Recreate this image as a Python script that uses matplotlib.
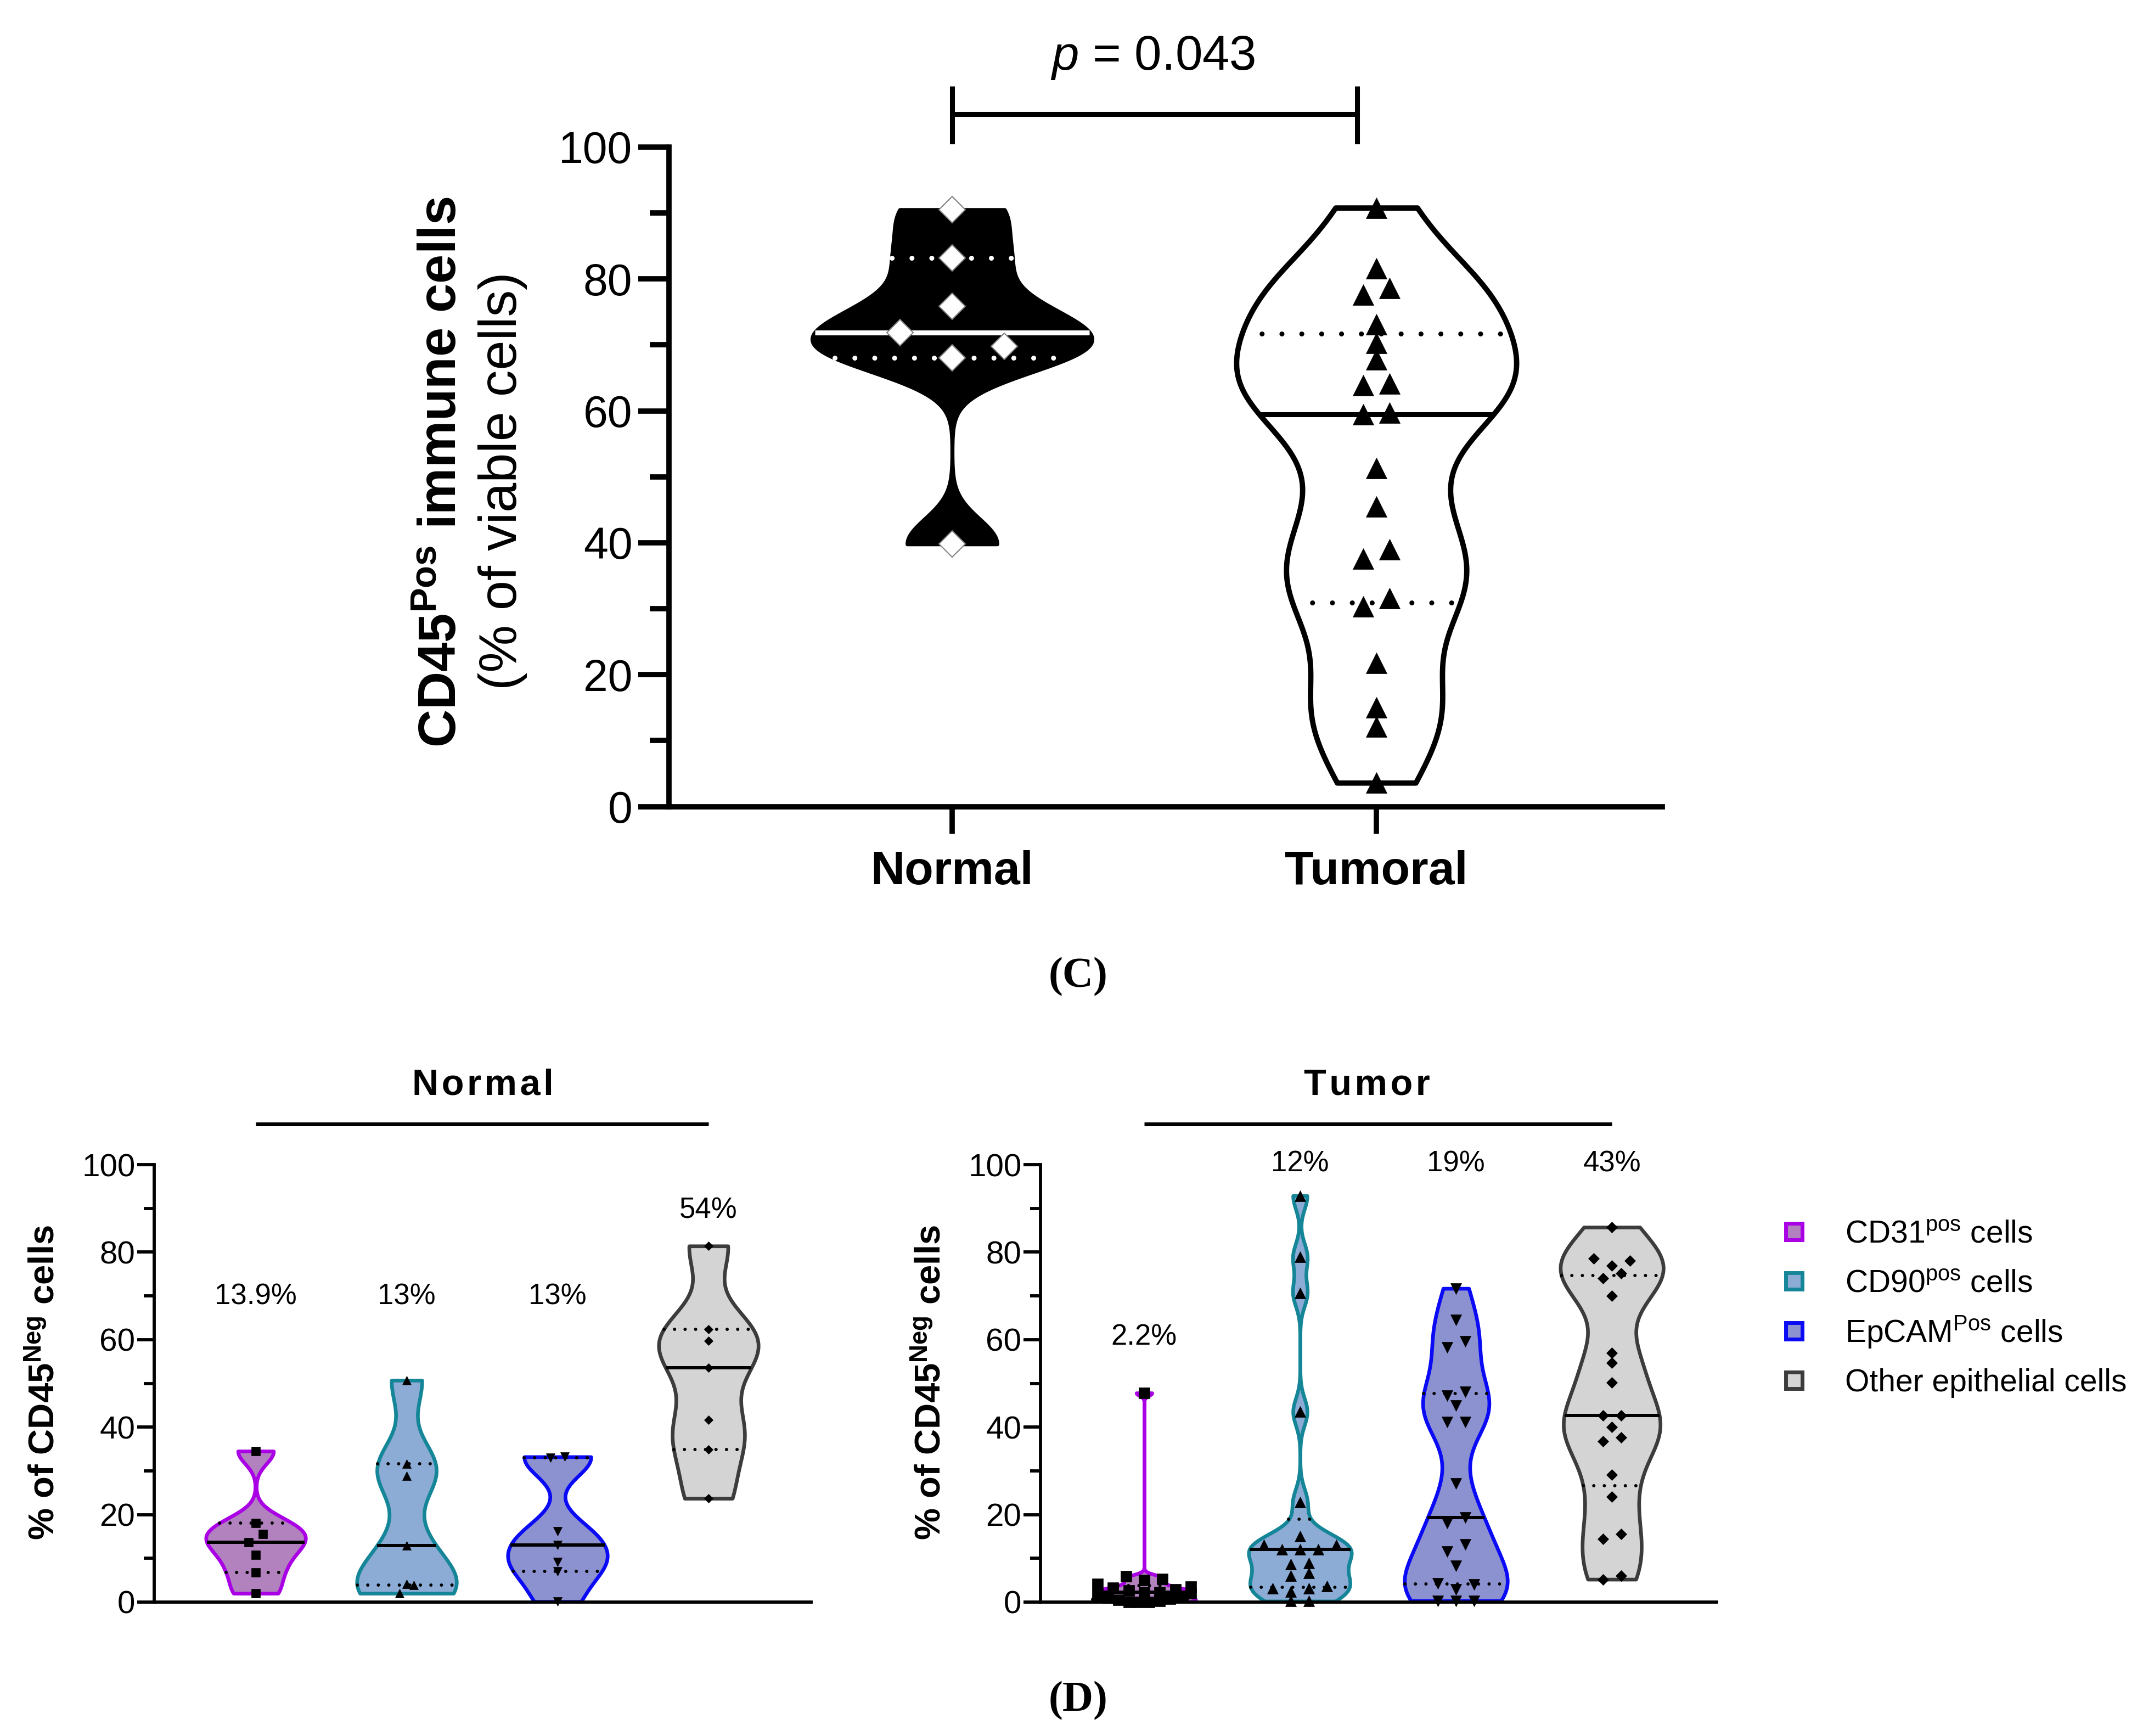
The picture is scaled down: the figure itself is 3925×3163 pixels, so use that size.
import numpy as np
import matplotlib
matplotlib.use('Agg')
import matplotlib.pyplot as plt
from matplotlib.lines import Line2D

plt.rcParams['font.family'] = ['Liberation Sans', 'DejaVu Sans']
plt.rcParams['mathtext.fontset'] = 'custom'
plt.rcParams['mathtext.rm'] = 'Liberation Sans'
plt.rcParams['mathtext.it'] = 'Liberation Sans:italic'
plt.rcParams['mathtext.bf'] = 'Liberation Sans:bold'

W, H = 3925, 3163

# ---- panel C data
groups_c = ['Normal', 'Tumoral']
normal_c = [90.5, 83.2, 75.9, 71.9, 69.8, 68.0, 39.8]
tumoral_c = [90.8, 81.6, 77.6, 78.6, 73.1, 70.3, 67.8, 63.9, 64.1, 59.5, 59.7,
             51.3, 45.5, 37.6, 39.0, 30.3, 31.6, 21.8, 15.0, 12.1, 3.6]
p_label = r'$p$ = 0.043'

# ---- panel D data
cells = ['CD31', 'CD90', 'EpCAM', 'Other']
legend_labels = [r'CD31$^{\mathrm{pos}}$ cells', r'CD90$^{\mathrm{pos}}$ cells',
                 r'EpCAM$^{\mathrm{Pos}}$ cells', 'Other epithelial cells']
n_cd31 = [34.5, 18.1, 15.6, 13.7, 10.8, 6.8, 2.0]
n_cd90 = [50.7, 31.6, 28.8, 12.9, 4.1, 3.9, 2.0]
n_epcam = [33.2, 33.0, 16.2, 13.0, 9.1, 7.0, 0.1]
n_other = [81.4, 62.4, 59.7, 53.6, 41.7, 34.9, 23.7]
t_cd31 = [47.8, 5.9, 5.3, 5.0, 4.1, 3.5, 3.2, 2.9, 2.6, 2.3, 2.2, 2.0, 1.6, 1.3,
          1.0, 0.8, 0.5, 0.3, 0.0, 0.0, 0.0]
t_cd90 = [92.9, 78.9, 70.7, 43.5, 22.8, 15.0, 13.1, 13.1, 12.1, 12.1, 12.1, 8.9,
          8.7, 6.6, 6.0, 3.7, 3.1, 3.1, 2.4, 0.3, 0.2]
t_epcam = [71.7, 64.5, 59.6, 58.2, 48.1, 47.2, 44.9, 41.2, 41.2, 27.1, 19.3, 18.1,
           13.2, 11.5, 8.3, 4.3, 4.0, 2.9, 0.3, 0.3, 0.3]
t_other = [85.7, 78.6, 78.0, 76.9, 75.2, 74.0, 70.0, 57.0, 54.7, 50.2, 42.6, 42.7,
           40.0, 37.7, 36.8, 29.1, 24.1, 15.5, 14.4, 6.0, 5.2]
pct_normal = ['13.9%', '13%', '13%', '54%']
pct_tumor = ['2.2%', '12%', '19%', '43%']

face_cols = ['#B282BE', '#8CACD6', '#8C92D0', '#D4D4D4']
edge_cols = ['#AA00E6', '#158698', '#0A0AF5', '#3C3C3C']
markers = ['s', '^', 'v', 'D']


def px_axes(l, r, y0, y100):
    return [l / W, 1 - y0 / H, (r - l) / W, (y0 - y100) / H]


def kde_shape(vals, n=500):
    v = np.asarray(vals, float)
    q1, q3 = np.percentile(v, [25, 75], method='weibull')
    s = v.std(ddof=1)
    if q3 - q1 > 0:
        s = min(s, (q3 - q1) / 1.34)
    h = 0.5 * s * len(v) ** -0.2
    ys = np.linspace(v.min(), v.max(), n)
    d = np.exp(-0.5 * ((ys[:, None] - v[None, :]) / h) ** 2).sum(1)
    return ys, d / d.max()


def violin(ax, x, vals, face, edge, lw, line_col, llw, gap, half=0.33):
    ys, d = kde_shape(vals)
    w = d * half
    ax.fill_betweenx(ys, x - w, x + w, facecolor=face, edgecolor=edge,
                     linewidth=lw, zorder=2)
    q1, med, q3 = np.percentile(vals, [25, 50, 75], method='weibull')
    wm = np.interp(med, ys, w)
    ax.plot([x - wm, x + wm], [med, med], color=line_col, lw=llw, zorder=3,
            solid_capstyle='butt')
    for q in (q1, q3):
        wq = np.interp(q, ys, w)
        ax.plot([x - wq, x + wq], [q, q], color=line_col, lw=llw, zorder=3,
                linestyle=(0, (0.01, gap)), dash_capstyle='round')


def swarm(ax, x, vals, d_px, thresh_px, span_px):
    vals = np.asarray(vals, float)
    p0 = ax.transData.transform((0, 0))
    p1 = ax.transData.transform((1, 1))
    xpx, ypx = p1[0] - p0[0], p1[1] - p0[1]
    order = np.argsort(vals, kind='stable')
    groups = []
    for i in order:
        if groups and (vals[i] - vals[groups[-1][0]]) * ypx < thresh_px:
            groups[-1].append(i)
        else:
            groups.append([i])
    offs = np.zeros(len(vals))
    for g in groups:
        k = len(g)
        d = d_px if k < 2 else min(d_px, span_px / (k - 1))
        if k % 2:
            slots = [0]
            for j in range(1, k):
                slots.append(((j + 1) // 2) * (1 if j % 2 else -1))
        else:
            slots = []
            for j in range(k):
                slots.append((j // 2 + 0.5) * (-1 if j % 2 == 0 else 1))
        for j, i in enumerate(g):
            offs[i] = slots[j] * d / xpx
    return x + offs


fig = plt.figure(figsize=(W / 100, H / 100), dpi=100)

# ================= panel C
ax = fig.add_axes(px_axes(1219, 3029, 1469.5, 268))
ax.set_xlim(-0.6675, 1.674)
ax.set_ylim(0, 100)
for sp in ['top', 'right']:
    ax.spines[sp].set_visible(False)
for sp in ['left', 'bottom']:
    ax.spines[sp].set_linewidth(7)
ax.set_yticks(range(0, 101, 20))
ax.set_yticks(range(10, 100, 20), minor=True)
ax.tick_params(axis='y', which='major', length=40, width=7, labelsize=58, pad=8)
ax.tick_params(axis='y', which='minor', length=25, width=7)
ax.set_xticks([0, 1])
ax.set_xticklabels(groups_c, fontweight='bold', fontsize=62)
ax.tick_params(axis='x', length=35, width=7, pad=22)

violin(ax, 0, normal_c, 'black', 'black', 5, 'white', 6.5, 4)
violin(ax, 1, tumoral_c, 'white', 'black', 7, 'black', 6.5, 4)

xs = swarm(ax, 0, normal_c, 95, 50, 400)
ax.plot(xs, normal_c, linestyle='none', marker='D', ms=24, mfc='white',
        mec='#808080', mew=1.5, clip_on=False, zorder=4)
xs = swarm(ax, 1, tumoral_c, 48, 28, 400)
ax.plot(xs, tumoral_c, linestyle='none', marker='^', ms=28, mfc='black',
        mec='black', mew=0.5, clip_on=False, zorder=4)

# significance bracket
ax.plot([0, 0.955], [105, 105], color='black', lw=6.5, clip_on=False,
        solid_capstyle='butt')
for bx in (0, 0.955):
    ax.plot([bx, bx], [100.5, 109.2], color='black', lw=6.5, clip_on=False,
            solid_capstyle='butt')
fig.text(0.5353, 0.9668, p_label, fontsize=64, ha='center', va='center')

fig.text(806 / W, 1 - 860 / H, r'CD45$^{\mathbf{Pos}}$ immune cells', rotation=90,
         fontsize=69, fontweight='bold', ha='center', va='center')
fig.text(916 / W, 1 - 876 / H, '(% of viable cells)', rotation=90,
         fontsize=70, ha='center', va='center')

fig.text(1965 / W, 1 - 1780 / H, '(C)', family='Liberation Serif',
         fontweight='bold', fontsize=56, ha='center', va='center')

# ================= panel D
panels = [
    ('Normal', [n_cd31, n_cd90, n_epcam, n_other], pct_normal,
     [69.8, 69.8, 69.8, 89.5], (281, 1478), (-0.673, 3.68), 1.505,
     [11, 11, 11, 8.5], 26),
    ('Tumor', [t_cd31, t_cd90, t_epcam, t_other], pct_tumor,
     [60.6, 100.2, 100.2, 100.2], (1896, 3128), (-0.665, 3.672), 1.43,
     [14, 14, 14, 10], 33),
]
for title, series, pcts, pct_y, (l, r), xl, tx, msz, dpx in panels:
    ax = fig.add_axes(px_axes(l, r, 2919, 2122))
    ax.set_xlim(*xl)
    ax.set_ylim(0, 100)
    for sp in ['top', 'right']:
        ax.spines[sp].set_visible(False)
    for sp in ['left', 'bottom']:
        ax.spines[sp].set_linewidth(4.2)
    ax.set_xticks([])
    ax.set_yticks(range(0, 101, 20))
    ax.set_yticks(range(10, 100, 20), minor=True)
    ax.tick_params(axis='y', which='major', length=22, width=4.2, labelsize=42, pad=3)
    ax.tick_params(axis='y', which='minor', length=14, width=4.2)

    for i, vals in enumerate(series):
        violin(ax, i, vals, face_cols[i], edge_cols[i], 4.8, 'black', 4.3, 3.2)
        xs = swarm(ax, i, vals, dpx, 16, 170)
        ax.plot(xs, vals, linestyle='none', marker=markers[i], ms=msz[i],
                mfc='black', mec='black', mew=0.5, clip_on=False, zorder=4)
        ax.text(i, pct_y[i], pcts[i], fontsize=38, ha='center', va='center')

    ax.plot([0, 3], [109.3, 109.3], color='black', lw=5, clip_on=False,
            solid_capstyle='butt')
    ax.text(tx, 118.1, '\u200a'.join(title), fontsize=48, fontweight='bold',
            ha='center', va='center', family=['Liberation Sans', 'DejaVu Sans'])
    fig.text((l - 199) / W, 1 - 2519 / H, r'% of CD45$^{\mathbf{Neg}}$ cells',
             rotation=90, fontsize=47, fontweight='bold', ha='center', va='center')

# legend
leg_y = [2244, 2334, 2425, 2515]
for i, lab in enumerate(legend_labels):
    fig.add_artist(Line2D([3269 / W], [1 - leg_y[i] / H], transform=fig.transFigure,
                          marker='s', ms=21, mfc=face_cols[i], mec=edge_cols[i],
                          mew=5, linestyle='none'))
    fig.text(3362 / W, 1 - (leg_y[i] + 20) / H, lab, fontsize=41, va='baseline')

fig.text(1965 / W, 1 - 3099 / H, '(D)', family='Liberation Serif',
         fontweight='bold', fontsize=56, ha='center', va='center')

fig.savefig('out.png', dpi=100)
